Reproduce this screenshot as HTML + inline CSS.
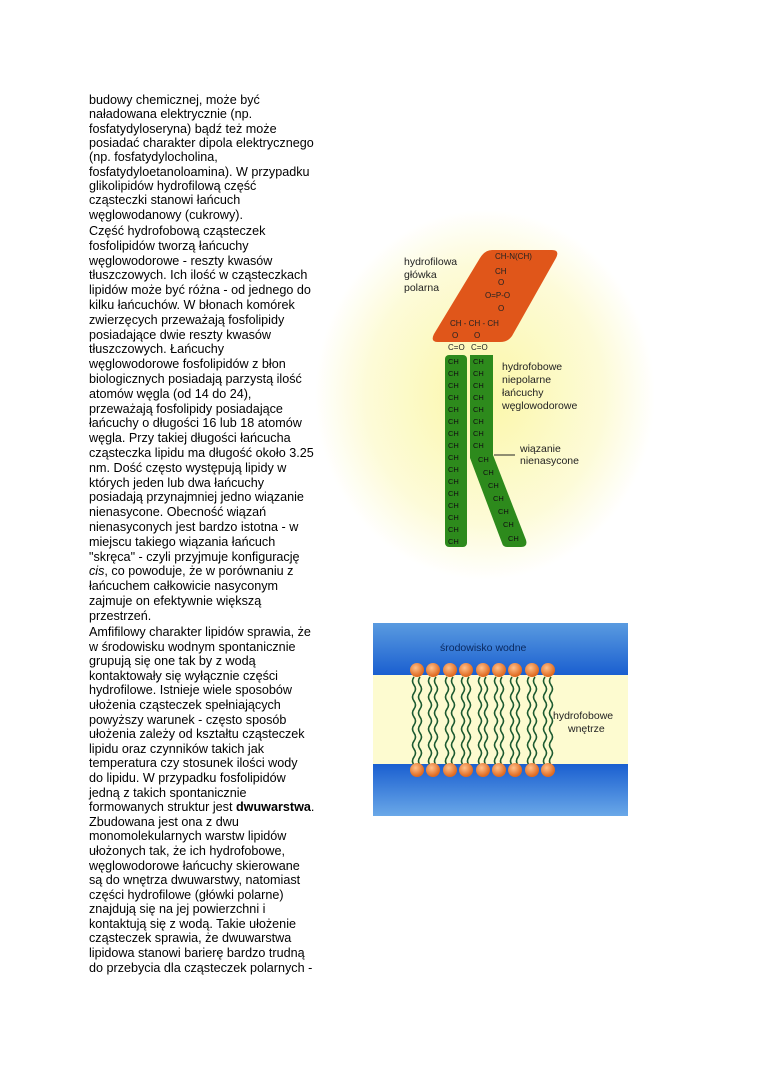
<!DOCTYPE html>
<html><head><meta charset="utf-8">
<style>
body{margin:0;width:760px;height:1075px;background:#fff;position:relative;overflow:hidden}
.t{position:absolute;left:89px;width:240px;font-family:"Liberation Sans",sans-serif;font-size:12.6px;line-height:14.35px;color:#000;white-space:nowrap}
.d{position:absolute;left:0;top:0}
</style></head><body>
<div class="t" style="top:93px">budowy chemicznej, może być<br>naładowana elektrycznie (np.<br>fosfatydyloseryna) bądź też może<br>posiadać charakter dipola elektrycznego<br>(np. fosfatydylocholina,<br>fosfatydyloetanoloamina). W przypadku<br>glikolipidów hydrofilową część<br>cząsteczki stanowi łańcuch<br>węglowodanowy (cukrowy).</div>
<div class="t" style="top:224px;line-height:14.8px">Część hydrofobową cząsteczek<br>fosfolipidów tworzą łańcuchy<br>węglowodorowe - reszty kwasów<br>tłuszczowych. Ich ilość w cząsteczkach<br>lipidów może być różna - od jednego do<br>kilku łańcuchów. W błonach komórek<br>zwierzęcych przeważają fosfolipidy<br>posiadające dwie reszty kwasów<br>tłuszczowych. Łańcuchy<br>węglowodorowe fosfolipidów z błon<br>biologicznych posiadają parzystą ilość<br>atomów węgla (od 14 do 24),<br>przeważają fosfolipidy posiadające<br>łańcuchy o długości 16 lub 18 atomów<br>węgla. Przy takiej długości łańcucha<br>cząsteczka lipidu ma długość około 3.25<br>nm. Dość często występują lipidy w<br>których jeden lub dwa łańcuchy<br>posiadają przynajmniej jedno wiązanie<br>nienasycone. Obecność wiązań<br>nienasyconych jest bardzo istotna - w<br>miejscu takiego wiązania łańcuch<br>"skręca" - czyli przyjmuje konfigurację<br><i>cis</i>, co powoduje, że w porównaniu z<br>łańcuchem całkowicie nasyconym<br>zajmuje on efektywnie większą<br>przestrzeń.</div>
<div class="t" style="top:625px;line-height:14.6px">Amfifilowy charakter lipidów sprawia, że<br>w środowisku wodnym spontanicznie<br>grupują się one tak by z wodą<br>kontaktowały się wyłącznie części<br>hydrofilowe. Istnieje wiele sposobów<br>ułożenia cząsteczek spełniających<br>powyższy warunek - często sposób<br>ułożenia zależy od kształtu cząsteczek<br>lipidu oraz czynników takich jak<br>temperatura czy stosunek ilości wody<br>do lipidu. W przypadku fosfolipidów<br>jedną z takich spontanicznie<br>formowanych struktur jest <b>dwuwarstwa</b>.<br>Zbudowana jest ona z dwu<br>monomolekularnych warstw lipidów<br>ułożonych tak, że ich hydrofobowe,<br>węglowodorowe łańcuchy skierowane<br>są do wnętrza dwuwarstwy, natomiast<br>części hydrofilowe (główki polarne)<br>znajdują się na jej powierzchni i<br>kontaktują się z wodą. Takie ułożenie<br>cząsteczek sprawia, że dwuwarstwa<br>lipidowa stanowi barierę bardzo trudną<br>do przebycia dla cząsteczek polarnych -</div>

<svg class="d" width="760" height="1075" font-family="Liberation Sans,sans-serif">
<defs>
<radialGradient id="yg" cx="0.5" cy="0.5" r="0.5">
<stop offset="0" stop-color="#fbf7a8"/><stop offset="0.7" stop-color="#fdfbd8"/><stop offset="1" stop-color="#fff"/>
</radialGradient>
<linearGradient id="bt" x1="0" y1="0" x2="0" y2="1"><stop offset="0" stop-color="#5a9be0"/><stop offset="1" stop-color="#1a5fd0"/></linearGradient>
<linearGradient id="bb" x1="0" y1="0" x2="0" y2="1"><stop offset="0" stop-color="#1a5fd0"/><stop offset="1" stop-color="#6aa8e8"/></linearGradient>
<radialGradient id="ball" cx="0.4" cy="0.35" r="0.6"><stop offset="0" stop-color="#ffc08a"/><stop offset="1" stop-color="#e06a20"/></radialGradient>
<path id="w" d="M0 0 q-3 4 0 8 q3 4 0 8 q-3 4 0 8 q3 4 0 8 q-3 4 0 8 q3 4 0 8 q-3 4 0 8 q3 4 0 8 q-3 4 0 8 q3 4 0 8 q-3 4 0 8"/>
</defs>
<ellipse cx="485" cy="395" rx="170" ry="185" fill="url(#yg)"/>
<path d="M492 250 L552 250 Q560 250 556 258 L512 336 Q508 342 500 342 L438 342 Q430 342 434 334 L480 258 Q485 250 492 250Z" fill="#e0561a"/>
<rect x="445" y="355" width="22" height="192" rx="4" fill="#2d8a1c"/>
<path d="M470 355 L493 355 L493 455 L526 540 Q528 547 521 547 L507 547 Q503 547 502 543 L470 458Z" fill="#2d8a1c"/>
<g font-size="8" fill="#222">
<text x="495" y="259">CH-N(CH)</text><text x="495" y="274">CH</text><text x="498" y="285">O</text><text x="485" y="298">O=P-O</text><text x="498" y="311">O</text>
<text x="450" y="326">CH - CH - CH</text><text x="452" y="338">O</text><text x="474" y="338">O</text>
<text x="448" y="350">C=O</text><text x="471" y="350">C=O</text>
</g>
<g font-size="7.5" fill="#111">
<text x="448" y="364">CH</text><text x="448" y="376">CH</text><text x="448" y="388">CH</text><text x="448" y="400">CH</text><text x="448" y="412">CH</text><text x="448" y="424">CH</text><text x="448" y="436">CH</text><text x="448" y="448">CH</text><text x="448" y="460">CH</text><text x="448" y="472">CH</text><text x="448" y="484">CH</text><text x="448" y="496">CH</text><text x="448" y="508">CH</text><text x="448" y="520">CH</text><text x="448" y="532">CH</text><text x="448" y="544">CH</text>
<text x="473" y="364">CH</text><text x="473" y="376">CH</text><text x="473" y="388">CH</text><text x="473" y="400">CH</text><text x="473" y="412">CH</text><text x="473" y="424">CH</text><text x="473" y="436">CH</text><text x="473" y="448">CH</text><text x="478" y="462">CH</text><text x="483" y="475">CH</text><text x="488" y="488">CH</text><text x="493" y="501">CH</text><text x="498" y="514">CH</text><text x="503" y="527">CH</text><text x="508" y="541">CH</text>
</g>
<g font-size="10.5" fill="#222">
<text x="404" y="265">hydrofilowa</text><text x="404" y="278">główka</text><text x="404" y="291">polarna</text>
<text x="502" y="370">hydrofobowe</text><text x="502" y="383">niepolarne</text><text x="502" y="396">łańcuchy</text><text x="502" y="409">węglowodorowe</text>
<text x="520" y="452">wiązanie</text><text x="520" y="464">nienasycone</text>
</g>
<line x1="494" y1="455" x2="515" y2="455" stroke="#222" stroke-width="1"/>

<rect x="373" y="623" width="255" height="52" fill="url(#bt)"/>
<rect x="373" y="675" width="255" height="89" fill="#fdfbd0"/>
<rect x="373" y="764" width="255" height="52" fill="url(#bb)"/>
<text x="440" y="651" font-size="10.5" fill="#0a2a60">środowisko wodne</text>
<text x="553" y="719" font-size="10.5" fill="#222">hydrofobowe</text>
<text x="568" y="732" font-size="10.5" fill="#222">wnętrze</text>
<g fill="none" stroke="#1c5a30" stroke-width="1.6">
<use href="#w" x="414" y="677"/><use href="#w" x="420" y="677"/>
<use href="#w" x="430" y="677"/><use href="#w" x="436" y="677"/>
<use href="#w" x="447" y="677"/><use href="#w" x="453" y="677"/>
<use href="#w" x="463" y="677"/><use href="#w" x="469" y="677"/>
<use href="#w" x="480" y="677"/><use href="#w" x="486" y="677"/>
<use href="#w" x="496" y="677"/><use href="#w" x="502" y="677"/>
<use href="#w" x="512" y="677"/><use href="#w" x="518" y="677"/>
<use href="#w" x="529" y="677"/><use href="#w" x="535" y="677"/>
<use href="#w" x="545" y="677"/><use href="#w" x="551" y="677"/>
</g>
<g fill="url(#ball)">
<circle cx="417" cy="670" r="7"/><circle cx="433" cy="670" r="7"/><circle cx="450" cy="670" r="7"/><circle cx="466" cy="670" r="7"/><circle cx="483" cy="670" r="7"/><circle cx="499" cy="670" r="7"/><circle cx="515" cy="670" r="7"/><circle cx="532" cy="670" r="7"/><circle cx="548" cy="670" r="7"/>
<circle cx="417" cy="770" r="7"/><circle cx="433" cy="770" r="7"/><circle cx="450" cy="770" r="7"/><circle cx="466" cy="770" r="7"/><circle cx="483" cy="770" r="7"/><circle cx="499" cy="770" r="7"/><circle cx="515" cy="770" r="7"/><circle cx="532" cy="770" r="7"/><circle cx="548" cy="770" r="7"/>
</g>
</svg>
</body></html>
